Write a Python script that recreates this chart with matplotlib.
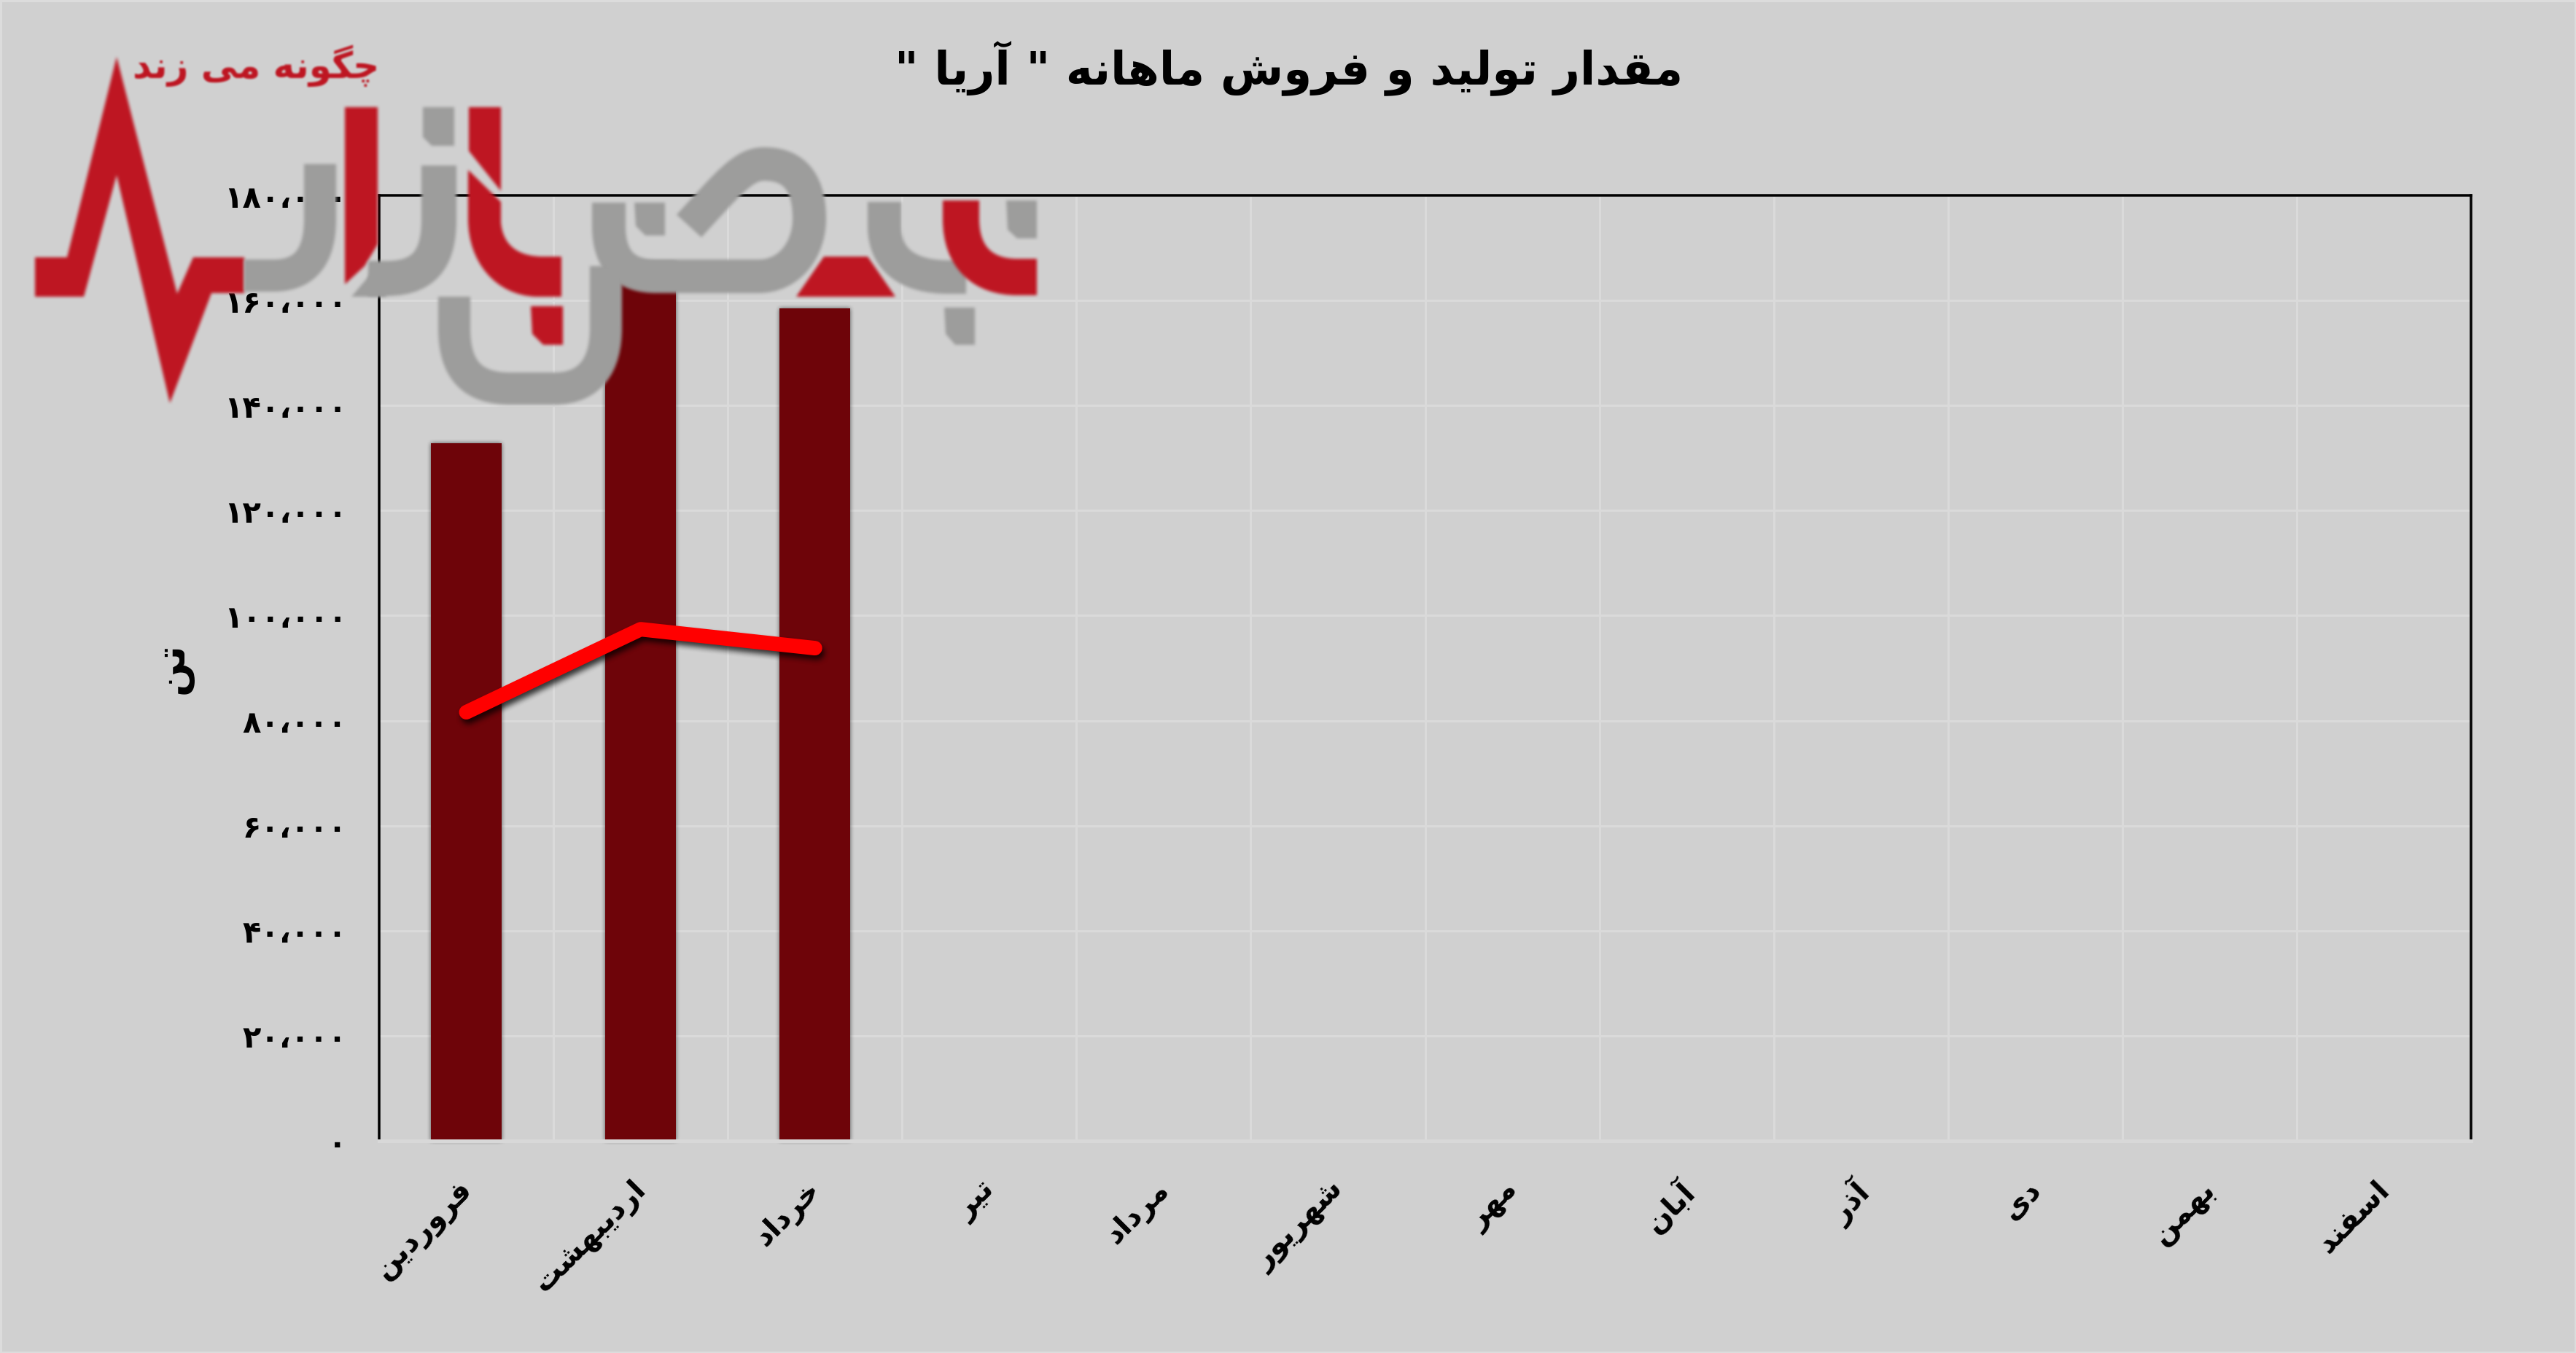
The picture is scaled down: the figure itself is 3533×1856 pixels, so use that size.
import numpy as np
import matplotlib
matplotlib.use('Agg')
import matplotlib.pyplot as plt
from matplotlib.patches import PathPatch, Polygon
from matplotlib.path import Path
from matplotlib.transforms import ScaledTranslation

W, H = 3533, 1856
PX = 72 / 100  # one pixel in points at dpi 100

months = ['فروردین', 'اردیبهشت', 'خرداد', 'تیر', 'مرداد', 'شهریور',
          'مهر', 'آبان', 'آذر', 'دی', 'بهمن', 'اسفند']
production = [132800, 167200, 158500]
sales = [81600, 97400, 93800]
y_ticks = [0, 20000, 40000, 60000, 80000, 100000, 120000, 140000, 160000, 180000]
title = 'مقدار تولید و فروش ماهانه " آریا "'
y_label = 'تن'
logo_text = 'چگونه می زند'

BG = '#d0d0d0'
GRID = '#dadada'
BAR = '#6e0409'
RED = '#be1622'
GRAY = '#9d9d9c'

# matplotlib has no arabic shaping, so pick the presentation forms here
# letter: isolated, final, initial, medial
FORMS = {
    'ا': (0xFE8D, 0xFE8E), 'آ': (0xFE81, 0xFE82), 'د': (0xFEA9, 0xFEAA),
    'ذ': (0xFEAB, 0xFEAC), 'ر': (0xFEAD, 0xFEAE), 'ز': (0xFEAF, 0xFEB0),
    'و': (0xFEED, 0xFEEE),
    'ب': (0xFE8F, 0xFE90, 0xFE91, 0xFE92), 'ت': (0xFE95, 0xFE96, 0xFE97, 0xFE98),
    'چ': (0xFB7A, 0xFB7B, 0xFB7C, 0xFB7D), 'خ': (0xFEA5, 0xFEA6, 0xFEA7, 0xFEA8),
    'س': (0xFEB1, 0xFEB2, 0xFEB3, 0xFEB4), 'ش': (0xFEB5, 0xFEB6, 0xFEB7, 0xFEB8),
    'ف': (0xFED1, 0xFED2, 0xFED3, 0xFED4), 'ق': (0xFED5, 0xFED6, 0xFED7, 0xFED8),
    'گ': (0xFB92, 0xFB93, 0xFB94, 0xFB95), 'ل': (0xFEDD, 0xFEDE, 0xFEDF, 0xFEE0),
    'م': (0xFEE1, 0xFEE2, 0xFEE3, 0xFEE4), 'ن': (0xFEE5, 0xFEE6, 0xFEE7, 0xFEE8),
    'ه': (0xFEE9, 0xFEEA, 0xFEEB, 0xFEEC), 'ی': (0xFBFC, 0xFBFD, 0xFBFE, 0xFBFF),
}


def shape(text):
    out = []
    for i, c in enumerate(text):
        if c not in FORMS:
            out.append(c)
            continue
        prev = text[i - 1] if i > 0 else ' '
        nxt = text[i + 1] if i + 1 < len(text) else ' '
        join_prev = prev in FORMS and len(FORMS[prev]) == 4
        join_next = nxt in FORMS and len(FORMS[c]) == 4
        idx = {(False, False): 0, (True, False): 1, (False, True): 2, (True, True): 3}[(join_prev, join_next)]
        out.append(chr(FORMS[c][idx]))
    return ''.join(out[::-1])


def fa_number(v):
    return f'{v:,}'.translate(str.maketrans('0123456789,', '۰۱۲۳۴۵۶۷۸۹،'))


def soft(radius, dx=0, dy=0):
    # blur the alpha only, these artists all have one colour
    def flt(img, dpi):
        pad = radius * 3
        out = np.pad(img, ((pad, pad), (pad, pad), (0, 0)))
        k = np.ones(2 * radius + 1) / (2 * radius + 1)
        a = out[:, :, 3]
        pos = np.unravel_index(np.argmax(a), a.shape)
        rgb = out[pos[0], pos[1], :3].copy()
        for _ in range(2):
            for axis in (0, 1):
                a = np.apply_along_axis(lambda m: np.convolve(m, k, mode='same'), axis, a)
        out[:, :, :3] = rgb
        out[:, :, 3] = a
        return out, -pad + dx, -pad + dy
    return flt


# the small extra keeps the size from rounding down a pixel
fig = plt.figure(figsize=((W + 0.01) / 100, (H + 0.01) / 100), dpi=100, facecolor=BG,
                 edgecolor='#dcdcdc', linewidth=5 * PX)
ax = fig.add_axes([520 / W, (H - 1565) / H, (3389 - 520) / W, (1565 - 268) / H], facecolor=BG)

x = np.arange(len(months))
n = len(production)
ax.bar(x[:n], production, width=0.405, color='k', alpha=0.6, zorder=1.8,
       clip_on=False, agg_filter=soft(3))
ax.bar(x[:n], production, width=0.405, color=BAR, zorder=2)
ax.plot(x[:len(sales)], sales, color='k', alpha=0.75, lw=20 * PX, zorder=2.8,
        solid_capstyle='round', solid_joinstyle='round', agg_filter=soft(4, 3, -6))
ax.plot(x[:len(sales)], sales, color='#ff0000', lw=20 * PX, zorder=3,
        solid_capstyle='round', solid_joinstyle='round')

ax.set_xlim(-0.5, len(months) - 0.5)
ax.set_ylim(0, 180000)
ax.set_yticks(y_ticks)
ax.set_yticklabels([fa_number(v) for v in y_ticks], fontsize=30, fontweight='bold')
ax.set_xticks(x)
ax.set_xticklabels([shape(m) for m in months], rotation=45, ha='right', va='top',
                   rotation_mode='anchor', fontsize=29, fontweight='bold')
ax.set_xticks(x[:-1] + 0.5, minor=True)
ax.tick_params(axis='both', which='both', length=0)
ax.tick_params(axis='x', pad=34)
ax.tick_params(axis='y', pad=32)
shift = ScaledTranslation(-12 / 100, 0, fig.dpi_scale_trans)
for label in ax.get_xticklabels():
    label.set_transform(label.get_transform() + shift)
ax.grid(True, which='major', axis='y', color=GRID, lw=3 * PX, zorder=0)
ax.grid(True, which='minor', axis='x', color=GRID, lw=3 * PX, zorder=0)
ax.set_axisbelow(True)
for side in ('left', 'right', 'top'):
    ax.spines[side].set_linewidth(3.5 * PX)
    ax.spines[side].set_color('k')
ax.spines['bottom'].set_linewidth(5 * PX)
ax.spines['bottom'].set_color('#d8d8d8')

ax.set_ylabel(shape(y_label), fontsize=40, fontweight='bold', labelpad=30)
ax.set_title(shape(title), fontsize=45, fontweight='bold', pad=110,
             x=(1768 - 520) / (3389 - 520))

# logo sits on top of everything, laid out in picture pixels
logo = fig.add_axes([0, 0, 1, 1], zorder=5)
logo.set_xlim(0, W)
logo.set_ylim(H, 0)
logo.axis('off')
logo.patch.set_alpha(0)

M, L, C = Path.MOVETO, Path.LINETO, Path.CURVE4


def stroke(verts, codes, color, width):
    logo.add_patch(PathPatch(Path(verts, codes), fc='none', ec=color, lw=width * PX,
                             capstyle='butt', joinstyle='round', agg_filter=soft(2)))


def solid(verts, color):
    logo.add_patch(Polygon(verts, closed=True, fc=color, ec='none', agg_filter=soft(2)))


solid([(48, 353), (92, 353), (160, 78), (243, 403), (265, 353), (335, 353), (335, 402),
       (290, 402), (233, 553), (160, 240), (115, 407), (48, 407)], RED)
stroke([(335, 378), (375, 378), (420, 378), (439, 350), (439, 300), (439, 225)],
       [M, L, C, C, C, L], GRAY, 44)
solid([(473, 147), (518, 147), (518, 335), (500, 365), (473, 390)], RED)
stroke([(505, 382), (530, 382), (590, 382), (602, 345), (602, 300), (602, 227)],
       [M, L, C, C, C, L], GRAY, 48)
solid([(482, 407), (520, 362), (530, 407)], GRAY)
solid([(580, 147), (623, 147), (623, 200), (592, 200), (580, 188)], GRAY)
solid([(643, 147), (687, 147), (687, 262), (643, 207)], RED)
logo.add_patch(PathPatch(Path(
    [(642, 233), (687, 277), (687, 305), (690, 340), (715, 352), (745, 352), (770, 352),
     (770, 407), (735, 407), (680, 405), (642, 360), (642, 300), (642, 233)],
    [M, L, L, C, C, C, L, L, L, C, C, C, L]), fc=RED, ec='none', agg_filter=soft(2)))
solid([(728, 420), (772, 420), (772, 473), (745, 473), (730, 458)], RED)
stroke([(623, 407), (623, 450), (623, 510), (650, 533), (700, 533), (760, 533),
        (810, 533), (831, 500), (831, 450), (831, 365)],
       [M, L, C, C, C, L, C, C, C, L], GRAY, 44)
stroke([(835, 278), (835, 310), (835, 360), (860, 379), (900, 379), (1040, 379),
        (1085, 379), (1110, 340), (1110, 300), (1110, 240), (1080, 225), (1048, 225),
        (1020, 225), (1000, 250), (945, 310)],
       [M, L, C, C, C, L, C, C, C, C, C, C, C, C, C], GRAY, 46)
solid([(870, 278), (912, 278), (912, 323), (885, 323), (872, 310)], GRAY)
stroke([(1213, 277), (1213, 310), (1213, 360), (1250, 380), (1300, 380), (1325, 380)],
       [M, L, C, C, C, L], GRAY, 46)
solid([(1130, 352), (1190, 352), (1228, 407), (1092, 407)], RED)
stroke([(1318, 275), (1318, 300), (1318, 355), (1350, 380), (1395, 380), (1422, 380)],
       [M, L, C, C, C, L], RED, 50)
solid([(1380, 275), (1422, 275), (1422, 327), (1395, 327), (1382, 315)], GRAY)
solid([(1295, 422), (1337, 422), (1337, 473), (1310, 473), (1297, 458)], GRAY)
logo.text(351, 90, shape(logo_text), color=RED, fontsize=36, fontweight='bold',
          ha='center', va='center', agg_filter=soft(1))

fig.savefig('out.png', dpi=100)
